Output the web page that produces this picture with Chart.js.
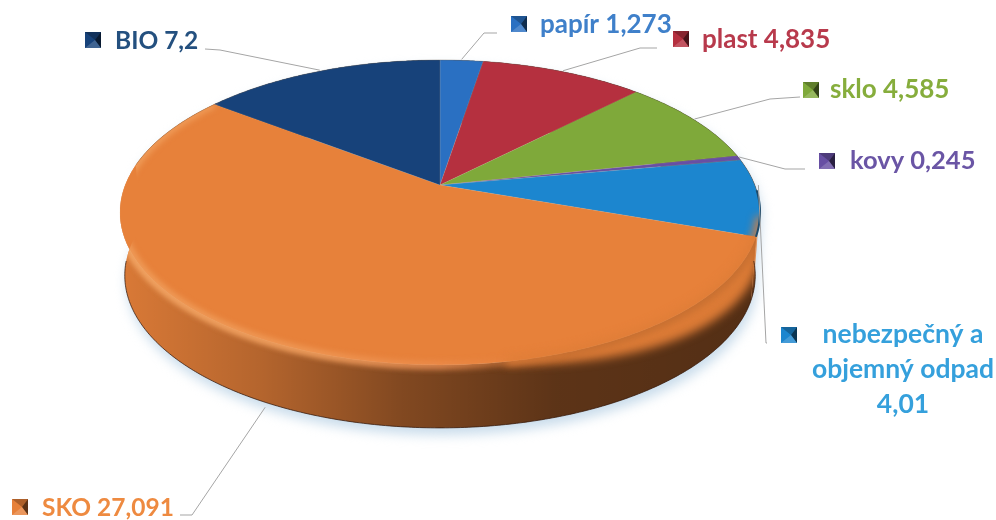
<!DOCTYPE html>
<html lang="cs">
<head>
<meta charset="UTF-8">
<title>Odpad</title>
<script src="https://cdn.jsdelivr.net/npm/chart.js"></script>
<style>
  html,body{margin:0;padding:0;background:#fff;overflow:hidden}
  canvas{display:block;filter:blur(.5px)}
</style>
</head>
<body>
<canvas id="pie" width="996" height="520"></canvas>

<script>
/* data */
const categories = ['papír','plast','sklo','kovy','nebezpečný a objemný odpad','SKO','BIO'];
const values     = [1.273,4.835,4.585,0.245,4.01,27.091,7.2];
const valueLabels = ['1,273','4,835','4,585','0,245','4,01','27,091','7,2'];
const sliceColors = ['#2a70c2','#b5303f','#7fa93a','#674fa3','#1c86cf','#e7813a','#17427a'];
const textColors  = ['#3f80ca','#b83a4c','#86ad3c','#6a55a5','#35a0dc','#ee8a40','#24507f'];

/* label layout: lines, text x, baselines, font size, marker x/y, leader elbow points */
const layout = [
  {lines:['papír 1,273'], x:540, y:[33], size:26, mx:511, my:16, leader:[[497,33],[484,33]], lift:-1},
  {lines:['plast 4,835'], x:702, y:[48], size:26, mx:673, my:31, leader:[[657,48],[640,48]], lift:-1},
  {lines:['sklo 4,585'],  x:830, y:[98], size:26, mx:803, my:82, leader:[[800,97],[770,99]], lift:-1},
  {lines:['kovy 0,245'],  x:850, y:[169], size:25.5, mx:819, my:153, leader:[[805,169],[785,169]], lift:-1},
  {lines:['nebezpečný a','objemný odpad','4,01'], cx:903, y:[343,378,413], size:26.5, mx:781, my:327, leader:[[767,343],[766,343]], lift:-12},
  {lines:['SKO 27,091'],  x:42, y:[516], size:24.5, mx:12, my:499, leader:[[180,515],[192,515]], lift:5, wall:true},
  {lines:['BIO 7,2'],     x:115, y:[49], size:24.5, mx:85, my:32, leader:[[205,49],[220,50]], lift:-1}
];

/* tilted disc: circle -> picture through a perspective map */
const CX = 440, CY = 185, A = 314.8, B = 147.5, Q = 0.18;
const WALL = 63, LOW = 0.985;
function face(a){
  const u = Math.cos(a), v = Math.sin(a), w = 1 - Q*v;
  return [CX + A*u/w, CY + B*v/w];
}
function lower(a){
  const u = Math.cos(a), v = Math.sin(a), w = 1 - Q*v;
  return [CX + A*LOW*u/w, CY + WALL + B*v/w];
}
// the lit part of the lip runs further down on the right hand side
function lipEdge(a){
  const p = face(a);
  return [p[0], p[1] + 34*Math.max(0,(p[0]-490)/260)];
}
function edge(ctx, fn, a0, a1, first){
  const n = Math.max(2, Math.ceil(Math.abs(a1-a0)/0.01));
  for(let i=0;i<=n;i++){
    const p = fn(a0 + (a1-a0)*i/n);
    if(i===0 && first) ctx.moveTo(p[0],p[1]); else ctx.lineTo(p[0],p[1]);
  }
}
const rad = d => d*Math.PI/180;

function hullPath(ctx, dx=0, dy=0){
  ctx.beginPath();
  edge(ctx, a=>{const p=face(a);return [p[0]+dx,p[1]+dy]}, rad(-172), rad(8), true);
  edge(ctx, a=>{const p=lower(a);return [p[0]+dx,p[1]+dy]}, rad(8), rad(188), false);
  ctx.closePath();
}

function marker(ctx,x,y,color){
  const s = 16, m = s/2;
  ctx.fillStyle = color; ctx.fillRect(x,y,s,s);
  const tri = (pts,fill)=>{
    ctx.beginPath(); ctx.moveTo(pts[0][0],pts[0][1]);
    pts.slice(1).forEach(p=>ctx.lineTo(p[0],p[1]));
    ctx.closePath(); ctx.fillStyle = fill; ctx.fill();
  };
  tri([[x,y],[x+s,y],[x+m+2,y+m]],'rgba(0,0,0,.25)');
  tri([[x+s,y],[x+s,y+s],[x+m+2,y+m]],'rgba(0,0,0,.6)');
  tri([[x,y+s],[x+s,y+s],[x+m+2,y+m]],'rgba(255,255,255,.18)');
}

const pie3d = {
  id:'pie3d',
  beforeDatasetsDraw(chart){
    const ctx = chart.ctx, arcs = chart.getDatasetMeta(0).data;
    ctx.save();

    // soft blue shadow under the disc
    ctx.filter = 'blur(6px)';
    hullPath(ctx,2,7);
    ctx.fillStyle = '#c9dceb';
    ctx.fill();
    ctx.filter = 'none';

    // side wall (the blue slice is hidden by the lip, so it takes the orange)
    const shade = ctx.createLinearGradient(120,0,760,0);
    shade.addColorStop(0,'rgba(0,0,0,.06)');
    shade.addColorStop(.22,'rgba(0,0,0,.22)');
    shade.addColorStop(.44,'rgba(0,0,0,.44)');
    shade.addColorStop(.68,'rgba(0,0,0,.6)');
    shade.addColorStop(1,'rgba(0,0,0,.64)');
    arcs.forEach((arc,i)=>{
      ctx.beginPath();
      edge(ctx, face, arc.startAngle, arc.endAngle, true);
      edge(ctx, lower, arc.endAngle, arc.startAngle, false);
      ctx.closePath();
      ctx.fillStyle = i===4 ? arcs[5].options.backgroundColor : arc.options.backgroundColor;
      ctx.fill();
      ctx.fillStyle = shade; ctx.fill();
    });

    // rounded lip between face and wall
    ctx.save();
    hullPath(ctx);
    ctx.clip();
    ctx.filter = 'blur(5px)';
    ctx.beginPath();
    edge(ctx, face, rad(5), rad(150), true);
    edge(ctx, lipEdge, rad(150), rad(5), false);
    ctx.closePath();
    ctx.fillStyle = '#dc7b36';
    ctx.fill();
    const lip = ctx.createLinearGradient(120,0,760,0);
    lip.addColorStop(0,'rgba(242,165,100,.95)');
    lip.addColorStop(.3,'rgba(242,160,95,.9)');
    lip.addColorStop(.5,'rgba(238,145,85,.7)');
    lip.addColorStop(.7,'rgba(231,129,58,0)');
    lip.addColorStop(1,'rgba(231,129,58,0)');
    ctx.filter = 'blur(3px)';
    ctx.beginPath();
    edge(ctx, face, arcs[5].startAngle, arcs[5].endAngle, true);
    ctx.strokeStyle = lip;
    ctx.lineWidth = 7;
    ctx.stroke();
    ctx.filter = 'none';
    ctx.restore();

    // top face
    arcs.forEach(arc=>{
      ctx.beginPath();
      ctx.moveTo(CX,CY);
      edge(ctx, face, arc.startAngle, arc.endAngle, false);
      ctx.closePath();
      ctx.fillStyle = arc.options.backgroundColor;
      ctx.fill();
      ctx.strokeStyle = 'rgba(230,190,150,.25)';
      ctx.lineWidth = .6;
      ctx.stroke();
    });

    // highlight again over the face edge, the face has no hard lower rim
    ctx.save();
    hullPath(ctx);
    ctx.clip();
    ctx.filter = 'blur(3px)';
    ctx.beginPath();
    edge(ctx, face, arcs[5].startAngle, arcs[5].endAngle, true);
    ctx.strokeStyle = lip;
    ctx.lineWidth = 6;
    ctx.stroke();
    ctx.filter = 'blur(4px)';
    ctx.beginPath();
    edge(ctx, face, rad(12), rad(80), true);
    ctx.strokeStyle = '#df7d37';
    ctx.lineWidth = 8;
    ctx.stroke();
    ctx.filter = 'none';
    ctx.restore();

    // dark hairline round the bottom and the back, dark sliver beside the blue slice
    ctx.beginPath();
    edge(ctx, lower, rad(5), rad(175), true);
    ctx.strokeStyle = 'rgba(50,25,15,.75)';
    ctx.lineWidth = 1;
    ctx.stroke();
    ctx.beginPath();
    edge(ctx, face, rad(-172), rad(8), true);
    ctx.strokeStyle = 'rgba(40,40,40,.28)';
    ctx.lineWidth = .8;
    ctx.stroke();
    ctx.beginPath();
    edge(ctx, face, rad(2), arcs[4].endAngle, true);
    ctx.strokeStyle = '#1d4b6c';
    ctx.lineWidth = 2;
    ctx.stroke();

    ctx.restore();
    return false;
  },
  afterDraw(chart){
    const ctx = chart.ctx, arcs = chart.getDatasetMeta(0).data;
    ctx.save();
    layout.forEach((l,i)=>{
      // leader, ending on the middle of the slice
      const mid = (arcs[i].startAngle + arcs[i].endAngle)/2;
      const end = l.wall ? lower(mid) : face(mid);
      ctx.beginPath();
      ctx.moveTo(l.leader[0][0], l.leader[0][1]);
      ctx.lineTo(l.leader[1][0], l.leader[1][1]);
      ctx.lineTo(end[0], end[1] + l.lift);
      ctx.strokeStyle = '#a5a5a5';
      ctx.lineWidth = 1;
      ctx.stroke();

      marker(ctx, l.mx, l.my, sliceColors[i]);

      ctx.font = 'bold '+l.size+'px Lato';
      ctx.fillStyle = textColors[i];
      l.lines.forEach((t,k)=>{
        if(l.cx){ ctx.textAlign = 'center'; ctx.fillText(t, l.cx, l.y[k]); }
        else { ctx.textAlign = 'left'; ctx.fillText(t, l.x, l.y[k]); }
      });
    });
    ctx.restore();
  }
};

new Chart(document.getElementById('pie'),{
  type:'pie',
  data:{
    labels:categories.map((c,i)=>c+' '+valueLabels[i]),
    datasets:[{data:values, backgroundColor:sliceColors, borderWidth:0}]
  },
  options:{
    responsive:false,
    animation:false,
    plugins:{legend:{display:false}, tooltip:{enabled:false}}
  },
  plugins:[pie3d]
});
</script>
</body>
</html>
